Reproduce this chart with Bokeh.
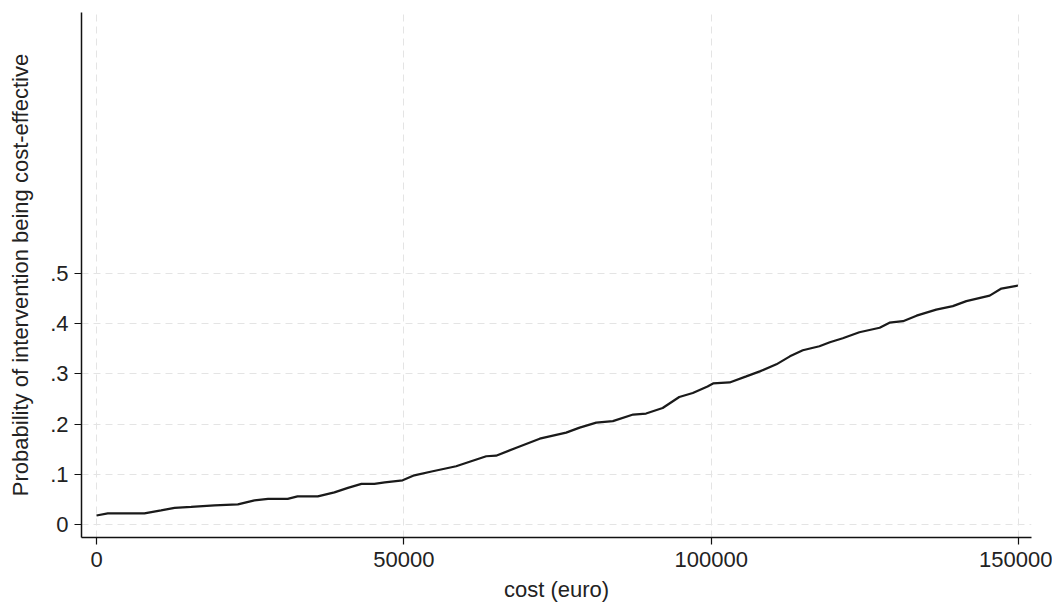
from bokeh.plotting import figure
from bokeh.models import FixedTicker, Range1d
from bokeh.embed import file_html
from bokeh.resources import INLINE

cost = [0, 1840, 7800, 10500, 12700, 15400, 19200, 23000, 25700, 27900, 31100,
        32700, 36000, 38700, 40900, 43100, 45200, 46900, 49800, 51700, 54700,
        58500, 60700, 63400, 65000, 68300, 72100, 76400, 78600, 81300, 84000,
        87300, 89400, 92100, 94800, 97000, 99400, 100300, 103000, 105700, 107900,
        110600, 112800, 114900, 117600, 119300, 121400, 124100, 127400, 129000,
        131200, 133400, 136600, 139300, 141500, 145300, 147200, 149900]
prob = [0.018, 0.022, 0.022, 0.028, 0.033, 0.035, 0.038, 0.040, 0.048, 0.051, 0.051,
        0.056, 0.056, 0.064, 0.073, 0.081, 0.081, 0.084, 0.088, 0.098, 0.106,
        0.116, 0.125, 0.136, 0.137, 0.153, 0.171, 0.183, 0.193, 0.203, 0.206,
        0.219, 0.221, 0.232, 0.254, 0.262, 0.275, 0.281, 0.283, 0.295, 0.305,
        0.319, 0.335, 0.347, 0.355, 0.363, 0.371, 0.383, 0.392, 0.402,
        0.405, 0.416, 0.428, 0.435, 0.445, 0.456, 0.470, 0.476]

x_ticks = [0, 50000, 100000, 150000]
x_tick_labels = ["0", "50000", "100000", "150000"]
y_ticks = [0, 0.1, 0.2, 0.3, 0.4, 0.5]
y_tick_labels = ["0", ".1", ".2", ".3", ".4", ".5"]

FONT = "Liberation Sans"

p = figure(width=1052, height=604, output_backend="svg", toolbar_location=None,
           x_range=Range1d(-2440, 152100), y_range=Range1d(-0.0259, 1.0199),
           min_border_left=81, min_border_right=21, min_border_top=12,
           min_border_bottom=67)
p.outline_line_color = None
p.background_fill_color = "white"
p.border_fill_color = "white"

p.line(cost, prob, line_color="#1a1a1a", line_width=2.2)

for ax in (p.xaxis[0], p.yaxis[0]):
    ax.axis_line_color = "#111111"
    ax.axis_line_width = 1.5
    ax.major_tick_line_color = "#111111"
    ax.major_tick_line_width = 1.2
    ax.major_tick_out = 7
    ax.major_tick_in = 0
    ax.minor_tick_line_color = None
    ax.major_label_text_font = FONT
    ax.major_label_text_font_size = "22px"
    ax.major_label_text_color = "#222222"
    ax.axis_label_text_font = FONT
    ax.axis_label_text_font_size = "22px"
    ax.axis_label_text_font_style = "normal"
    ax.axis_label_text_color = "#222222"

p.xaxis.ticker = FixedTicker(ticks=x_ticks)
p.yaxis.ticker = FixedTicker(ticks=y_ticks)
p.xaxis.major_label_overrides = {t: l for t, l in zip(x_ticks, x_tick_labels)}
p.yaxis.major_label_overrides = {t: l for t, l in zip(y_ticks, y_tick_labels)}
p.xaxis.major_label_standoff = 7
p.yaxis.major_label_standoff = 6
p.xaxis.axis_label = "cost (euro)"
p.yaxis.axis_label = "Probability of intervention being cost-effective"
p.xaxis.axis_label_standoff = 7
p.yaxis.axis_label_standoff = 14

p.xgrid.ticker = FixedTicker(ticks=x_ticks)
p.ygrid.ticker = FixedTicker(ticks=y_ticks)
for g in (p.xgrid[0], p.ygrid[0]):
    g.grid_line_color = "#e4e4e4"
    g.grid_line_dash = "7 5"
    g.grid_line_width = 1

open("out.html", "w").write(file_html(p, INLINE))
